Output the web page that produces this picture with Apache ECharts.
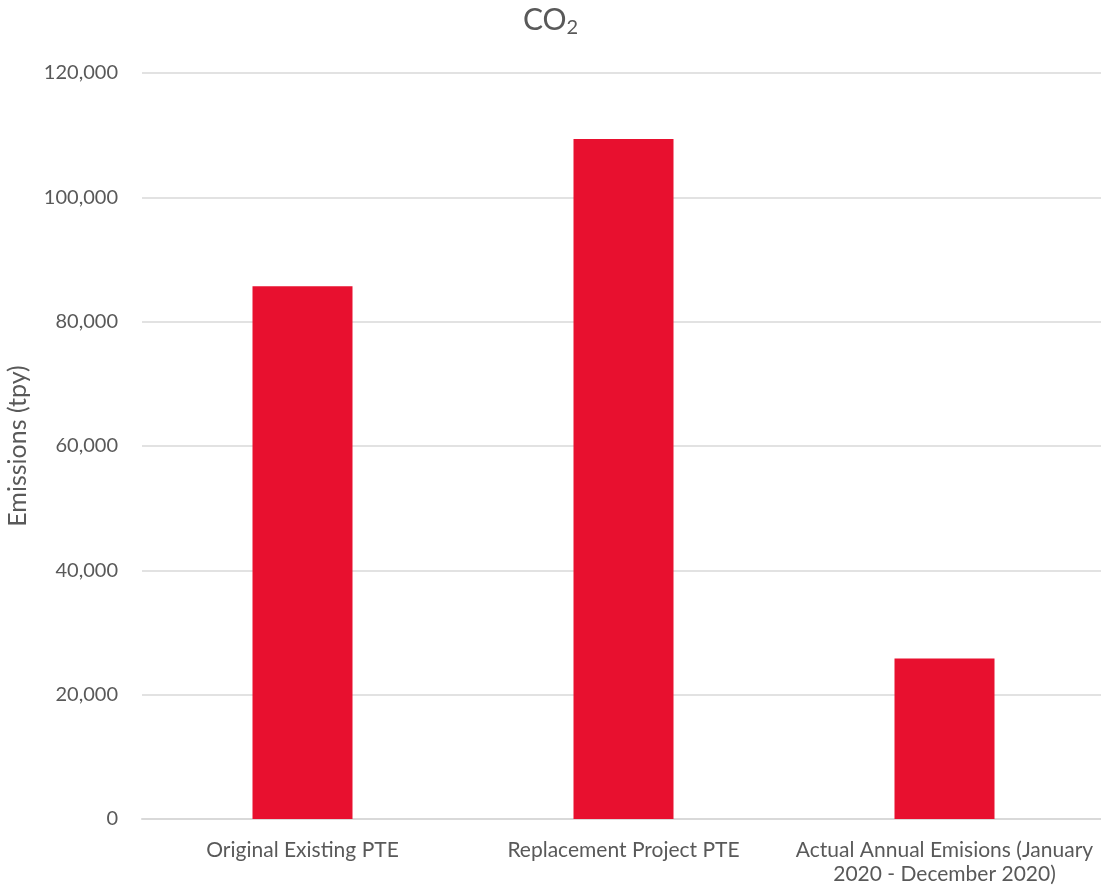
<!DOCTYPE html>
<html>
<head>
<meta charset="utf-8">
<script src="https://cdn.jsdelivr.net/npm/echarts@6/dist/echarts.min.js"></script>
<style>
  html, body { margin: 0; padding: 0; background: #fff; }
  #chart { width: 1101px; height: 891px; }
</style>
</head>
<body>
<div id="chart"></div>
<script>
// Annual CO2 emissions by scenario (tons per year)
const categories = [
  'Original Existing PTE',
  'Replacement Project PTE',
  'Actual Annual Emisions (January\n2020 - December 2020)'
];
const emissions = [85700, 109400, 25800];
const yTicks = { min: 0, max: 120000, interval: 20000 };

const FONT = 'Lato, "Open Sans", sans-serif';
const TEXT = '#595959';

const chart = echarts.init(document.getElementById('chart'), null, { renderer: 'canvas' });
chart.setOption({
  backgroundColor: '#ffffff',
  animation: false,
  title: {
    text: '{co|CO}{sub|2}',
    left: 'center',
    top: -3,
    textStyle: {
      fontWeight: 'normal',
      rich: {
        co: { fontFamily: FONT, fontSize: 30, fontWeight: 'normal', color: TEXT },
        sub: { fontFamily: FONT, fontSize: 20, fontWeight: 'normal', color: TEXT, padding: [16, 0, 0, 0] }
      }
    }
  },
  grid: { left: 142, right: -4, top: 73, bottom: 72, outerBoundsMode: 'none', containLabel: false },
  xAxis: {
    type: 'category',
    data: categories,
    axisTick: { show: false },
    axisLine: { lineStyle: { color: '#d9d9d9', width: 2 } },
    axisLabel: { color: TEXT, fontFamily: FONT, fontSize: 21, margin: 19, lineHeight: 24, interval: 0 }
  },
  yAxis: {
    type: 'value',
    min: yTicks.min,
    max: yTicks.max,
    interval: yTicks.interval,
    name: 'Emissions (tpy)',
    nameLocation: 'middle',
    nameGap: 112,
    nameTextStyle: { color: TEXT, fontFamily: FONT, fontSize: 25 },
    axisLine: { show: false },
    axisTick: { show: false },
    splitLine: { lineStyle: { color: '#d9d9d9', width: 1.5 } },
    axisLabel: {
      color: TEXT, fontFamily: FONT, fontSize: 20, margin: 24,
      formatter: v => v.toLocaleString('en-US')
    }
  },
  series: [{
    type: 'bar',
    data: emissions,
    barWidth: 100,
    itemStyle: { color: '#E8102F' }
  }]
});
</script>
</body>
</html>
